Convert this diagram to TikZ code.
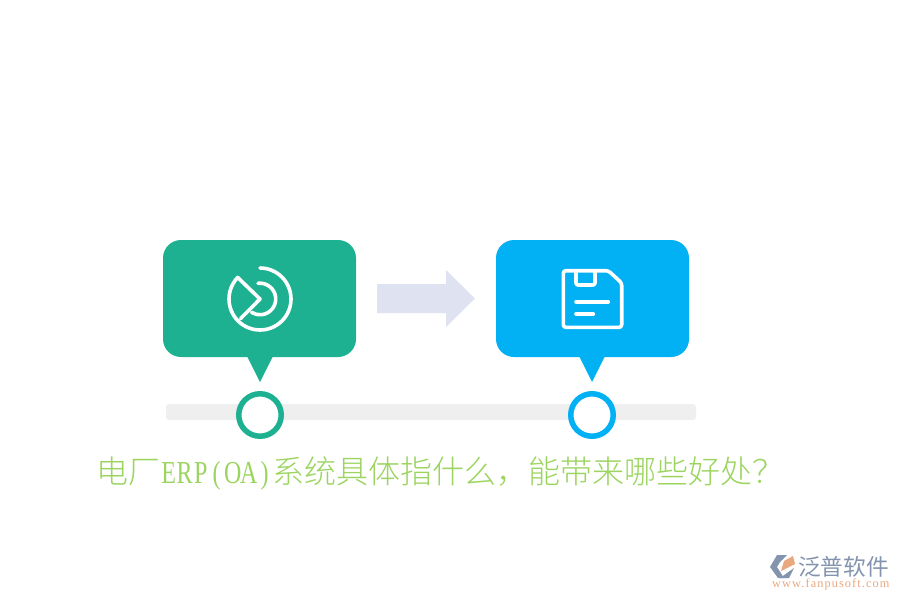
\documentclass[tikz,border=0pt]{standalone}
\usepackage{fontspec}
\setmainfont{Liberation Serif}
\newfontfamily\cjk{Noto Sans CJK SC}
\newfontfamily\cjklight{Noto Sans CJK SC Light}
\newfontfamily\narrowf[FakeStretch=0.75]{Liberation Serif}
\newcommand{\hw}[1]{\hbox to 16pt{\hss #1\hss}}
\definecolor{tealc}{HTML}{1DB191}
\definecolor{bluec}{HTML}{02B0F4}
\definecolor{trackc}{HTML}{EFEFEF}
\definecolor{arrowc}{HTML}{DFE3F1}
\definecolor{titlec}{HTML}{9BD45F}
\definecolor{logogrey}{HTML}{8494AE}
\definecolor{logoorange}{HTML}{E8A77F}
\tikzset{
  bubble/.style={rounded corners=18pt,draw=none},
  ring/.style={circle,draw,line width=5.5pt,fill=white,minimum size=42.5pt,inner sep=0pt},
  icon/.style={draw=white,line width=3.6pt,line join=round,line cap=round},
}
\begin{document}
\begin{tikzpicture}[x=1pt,y=-1pt]
\useasboundingbox (0,0) rectangle (900,600);
% track
\node[fill=trackc,rounded corners=3pt,minimum width=530pt,minimum height=16pt,inner sep=0pt] (track) at (431,412) {};
% bubbles
\fill[tealc] (247,356) -- (273,356) -- (260,382) -- cycle;
\node[bubble,fill=tealc,minimum width=193pt,minimum height=117pt,inner sep=0pt] (boxA) at (259.5,298.5) {};
\fill[bluec] (579,356) -- (605,356) -- (592,382) -- cycle;
\node[bubble,fill=bluec,minimum width=193pt,minimum height=117pt,inner sep=0pt] (boxB) at (592.5,298.5) {};
% rings
\node[ring,draw=tealc] (ringA) at (260,415) {};
\node[ring,draw=bluec] (ringB) at (592,415) {};
% block arrow
\fill[arrowc] (377,284) -- (446,284) -- (446,270) -- (475,298.5) -- (446,327) -- (446,313) -- (377,313) -- cycle;
% icon A
\draw[icon] (260,268) arc[start angle=-90,end angle=224,radius=31]
  -- (260,299) -- (240.7,318.5);
\draw[icon] (258,283.3) arc[start angle=-97,end angle=122,radius=15.8];
% icon B
\draw[icon,rounded corners=2.5pt] (608.3,270.7) -- (563.3,270.7) -- (563.3,327.3) -- (621.7,327.3) -- (621.7,283) -- cycle;
\draw[icon,rounded corners=2pt] (576,271) -- (576,285) -- (595,285) -- (595,271);
\draw[icon] (576,301.7) -- (608.3,301.7);
\draw[icon] (576,314) -- (593.3,314);
% title
\node[anchor=west,inner sep=0pt,text=titlec,font=\fontsize{32pt}{34pt}\selectfont] (title) at (96.5,474)
  {\cjklight 电厂\narrowf\fontsize{32pt}{34pt}\selectfont\hw{E}\hw{R}\hw{P}\hw{(}\hw{O}\hw{A}\hw{)}\cjklight\fontsize{32pt}{34pt}\selectfont 系统具体指什么，能带来哪些好处？};
% logo
\fill[logogrey] (770,567) -- (777,555) -- (787,555) -- (780,562) -- (777,567) -- (784,578) -- (778,578) -- cycle;
\fill[logoorange] (781,571) -- (784,561) -- (793,556) -- (795,564) -- cycle;
\fill[logogrey] (780,578) -- (794,568) -- (789,578) -- cycle;
\node[anchor=west,inner sep=0pt,text=logogrey,font=\fontsize{22.7pt}{24pt}\selectfont] (logotext) at (798,567) {\cjk 泛普软件};
\node[anchor=west,inner sep=0pt,text=logoorange,font=\fontsize{12.3pt}{14pt}\selectfont] (logourl) at (772,584) {\addfontfeature{LetterSpace=9}www.fanpusoft.com};
\end{tikzpicture}
\end{document}
